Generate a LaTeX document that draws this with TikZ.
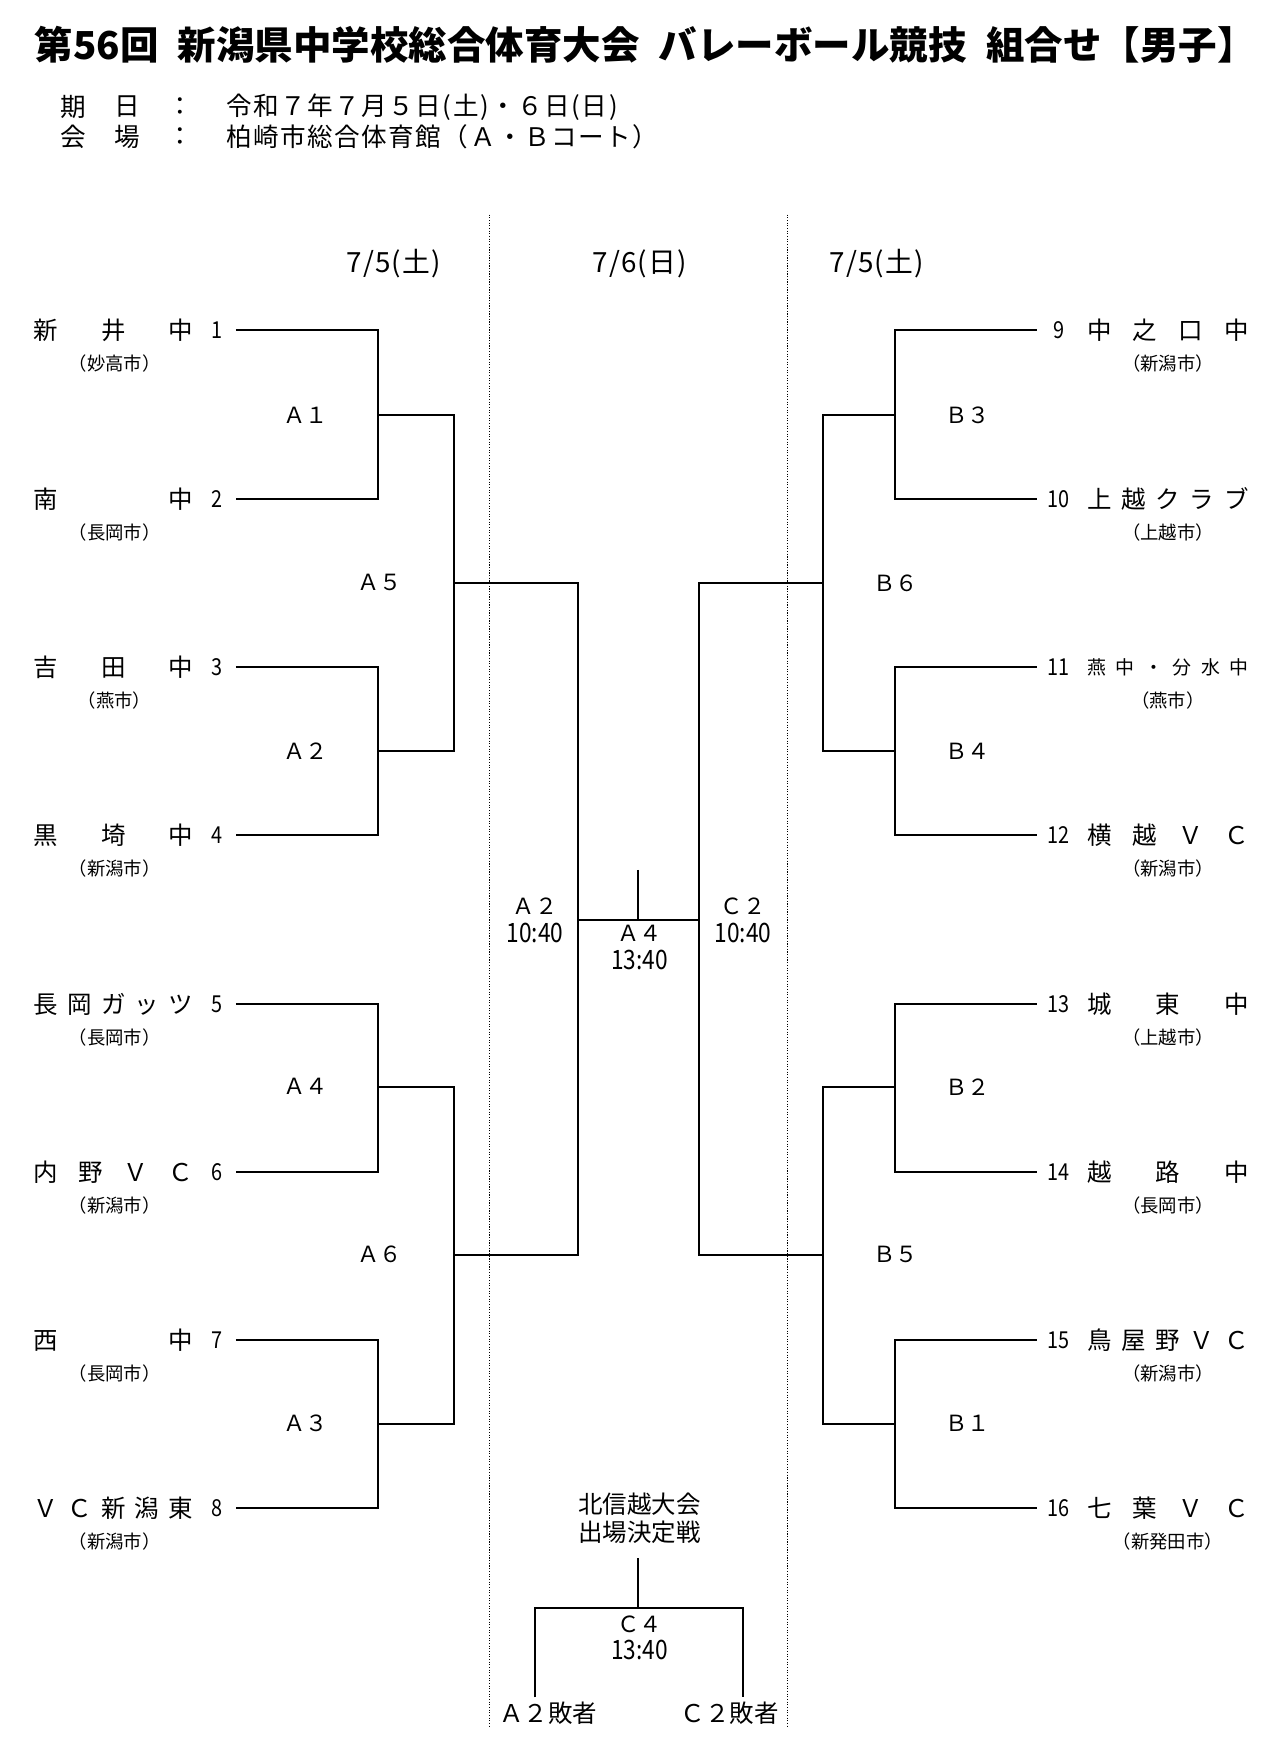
\documentclass[tikz,border=0pt]{standalone}
\usepackage{fontspec}
\setmainfont{Noto Sans CJK JP}
\newfontfamily\nar[FakeStretch=0.85]{Noto Sans CJK JP}
\newfontfamily\spaced[LetterSpace=6]{Noto Sans CJK JP}
\usetikzlibrary{calc}

\tikzset{
  bline/.style={line width=1.8pt},
  sep/.style={line width=0.9pt, dash pattern=on 1pt off 1.4pt},
  info/.style={inner sep=0pt, font=\spaced\fontsize{23}{23}\selectfont},
  day/.style={inner sep=0pt, font=\addfontfeature{LetterSpace=4}\fontsize{25}{25}\selectfont},
  team/.style={inner sep=0pt, font=\fontsize{22}{22}\selectfont},
  num/.style={inner sep=0pt, font=\nar\fontsize{21}{21}\selectfont},
  city/.style={inner sep=0pt, font=\fontsize{16.5}{16.5}\selectfont},
  game/.style={inner sep=0pt, font=\fontsize{20}{20}\selectfont},
  time/.style={inner sep=0pt, font=\nar\fontsize{24}{24}\selectfont},
  bottom/.style={inner sep=0pt, font=\fontsize{22}{22}\selectfont},
}

\begin{document}
\begin{tikzpicture}[x=1pt,y=-1pt]

\fill[white] (0,0) rectangle (1150,1567);
\useasboundingbox (0,0) rectangle (1150,1567);

% Title
\node[inner sep=0pt, font=\bfseries\fontsize{34.6}{34.6}\selectfont] (title) at (580,40)
  {第56回\hspace{0.5em}新潟県中学校総合体育大会\hspace{0.5em}バレーボール競技\hspace{0.5em}組合せ【男子】};

% Date and place
\node[info] (ki) at (66,96) {期};
\node[info] (bi) at (114,96) {日};
\node[info] (c1) at (162,96) {：};
\node[info, anchor=west] (date) at (203,96) {令和７年７月５日(土)・６日(日)};
\node[info] (ka) at (66,123) {会};
\node[info] (ba) at (114,123) {場};
\node[info] (c2) at (162,123) {：};
\node[info, anchor=west] (place) at (203,123) {柏崎市総合体育館（Ａ・Ｂコート）};

% Day separators
\draw[sep] (440,193) -- (440,1553);
\draw[sep] (708,193) -- (708,1553);

% Days
\node[day] (d1) at (354,237) {7/5(土)};
\node[day] (d2) at (575,237) {7/6(日)};
\node[day] (d3) at (788,237) {7/5(土)};

% Teams, left side
\foreach \y/\i/\name/\city in {
  297/1/{新\hfill 井\hfill 中}/妙高市,
  449/2/{南\hfill 中}/長岡市,
  600/3/{吉\hfill 田\hfill 中}/燕市,
  751/4/{黒\hfill 埼\hfill 中}/新潟市,
  903/5/{長\hfill 岡\hfill ガ\hfill ッ\hfill ツ}/長岡市,
  1054/6/{内\hfill 野\hfill Ｖ\hfill Ｃ}/新潟市,
  1205/7/{西\hfill 中}/長岡市,
  1356/8/{Ｖ\hfill Ｃ\hfill 新\hfill 潟\hfill 東}/新潟市}
{
  \node[team] (t\i) at (102,\y) {\makebox[143pt][s]{\name}};
  \node[num] (n\i) at (195,\y) {\i};
  \node[city] (c\i) at (103,\y+30) {（\city）};
  \coordinate (e\i) at (212,\y);
}

% Teams, right side
\foreach \y/\i/\name/\city in {
  297/9/{中\hfill 之\hfill 口\hfill 中}/新潟市,
  449/10/{上\hfill 越\hfill ク\hfill ラ\hfill ブ}/上越市,
  600/11/{\fontsize{17}{17}\selectfont 燕\hfill 中\hfill ・\hfill 分\hfill 水\hfill 中}/燕市,
  751/12/{横\hfill 越\hfill Ｖ\hfill Ｃ}/新潟市,
  903/13/{城\hfill 東\hfill 中}/上越市,
  1054/14/{越\hfill 路\hfill 中}/長岡市,
  1205/15/{鳥\hfill 屋\hfill 野\hfill Ｖ\hfill Ｃ}/新潟市,
  1356/16/{七\hfill 葉\hfill Ｖ\hfill Ｃ}/新発田市}
{
  \node[team] (t\i) at (1050,\y) {\makebox[145pt][s]{\name}};
  \node[num] (n\i) at (952,\y) {\i};
  \node[city] (c\i) at (1050,\y+30) {（\city）};
  \coordinate (e\i) at (932,\y);
}

% Joints of the bracket
\coordinate (p1) at (340,373);
\coordinate (p2) at (340,675);
\coordinate (p3) at (340,977);
\coordinate (p4) at (340,1280);
\coordinate (q1) at (408,524);
\coordinate (q2) at (408,1128);
\coordinate (k1) at (520,827);
\coordinate (p5) at (805,373);
\coordinate (p6) at (805,675);
\coordinate (p7) at (805,977);
\coordinate (p8) at (805,1280);
\coordinate (q3) at (740,524);
\coordinate (q4) at (740,1128);
\coordinate (k2) at (628,827);
\coordinate (top) at (574,782);

% Bracket lines
\draw[bline] (e1) -| (p1) |- (e2);
\draw[bline] (e3) -| (p2) |- (e4);
\draw[bline] (e5) -| (p3) |- (e6);
\draw[bline] (e7) -| (p4) |- (e8);
\draw[bline] (p1) -| (q1) |- (p2);
\draw[bline] (p3) -| (q2) |- (p4);
\draw[bline] (q1) -| (k1) |- (q2);
\draw[bline] (e9) -| (p5) |- (e10);
\draw[bline] (e11) -| (p6) |- (e12);
\draw[bline] (e13) -| (p7) |- (e14);
\draw[bline] (e15) -| (p8) |- (e16);
\draw[bline] (p5) -| (q3) |- (p6);
\draw[bline] (p7) -| (q4) |- (p8);
\draw[bline] (q3) -| (k2) |- (q4);
\draw[bline] (k1) -- (k2);
\draw[bline] (top) -- (top |- k1);

% Match labels
\foreach \x/\y/\g [count=\k] in {275/373/Ａ１, 275/675/Ａ２, 275/977/Ａ４, 275/1280/Ａ３,
  341/524/Ａ５, 341/1128/Ａ６, 870/373/Ｂ３, 870/675/Ｂ４, 870/977/Ｂ２, 870/1280/Ｂ１,
  805/524/Ｂ６, 805/1128/Ｂ５}
  \node[game] (g\k) at (\x,\y) {\g};

% Final day
\node[game] (fa) at (481,815) {Ａ２};
\node[time] (fat) at (481,839) {10:40};
\node[game] (fc) at (668,815) {Ｃ２};
\node[time] (fct) at (668,839) {10:40};
\node[game] (ff) at (575,839) {Ａ４};
\node[time] (fft) at (575,863) {13:40};

% Play-off
\node[bottom, align=center] (hk) at (575,1365) {北信越大会\\[3pt]出場決定戦};
\coordinate (ctop) at (574,1401);
\coordinate (c4) at (574,1446);
\coordinate (la) at (481,1526);
\coordinate (lc) at (668,1526);
\draw[bline] (ctop) -- (c4);
\draw[bline] (la) |- (c4) -| (lc);
\node[game] (pc) at (575,1460) {Ｃ４};
\node[time] (pct) at (575,1483) {13:40};
\node[bottom] (lsa) at (493,1540) {Ａ２敗者};
\node[bottom] (lsc) at (656,1540) {Ｃ２敗者};

\end{tikzpicture}
\end{document}
